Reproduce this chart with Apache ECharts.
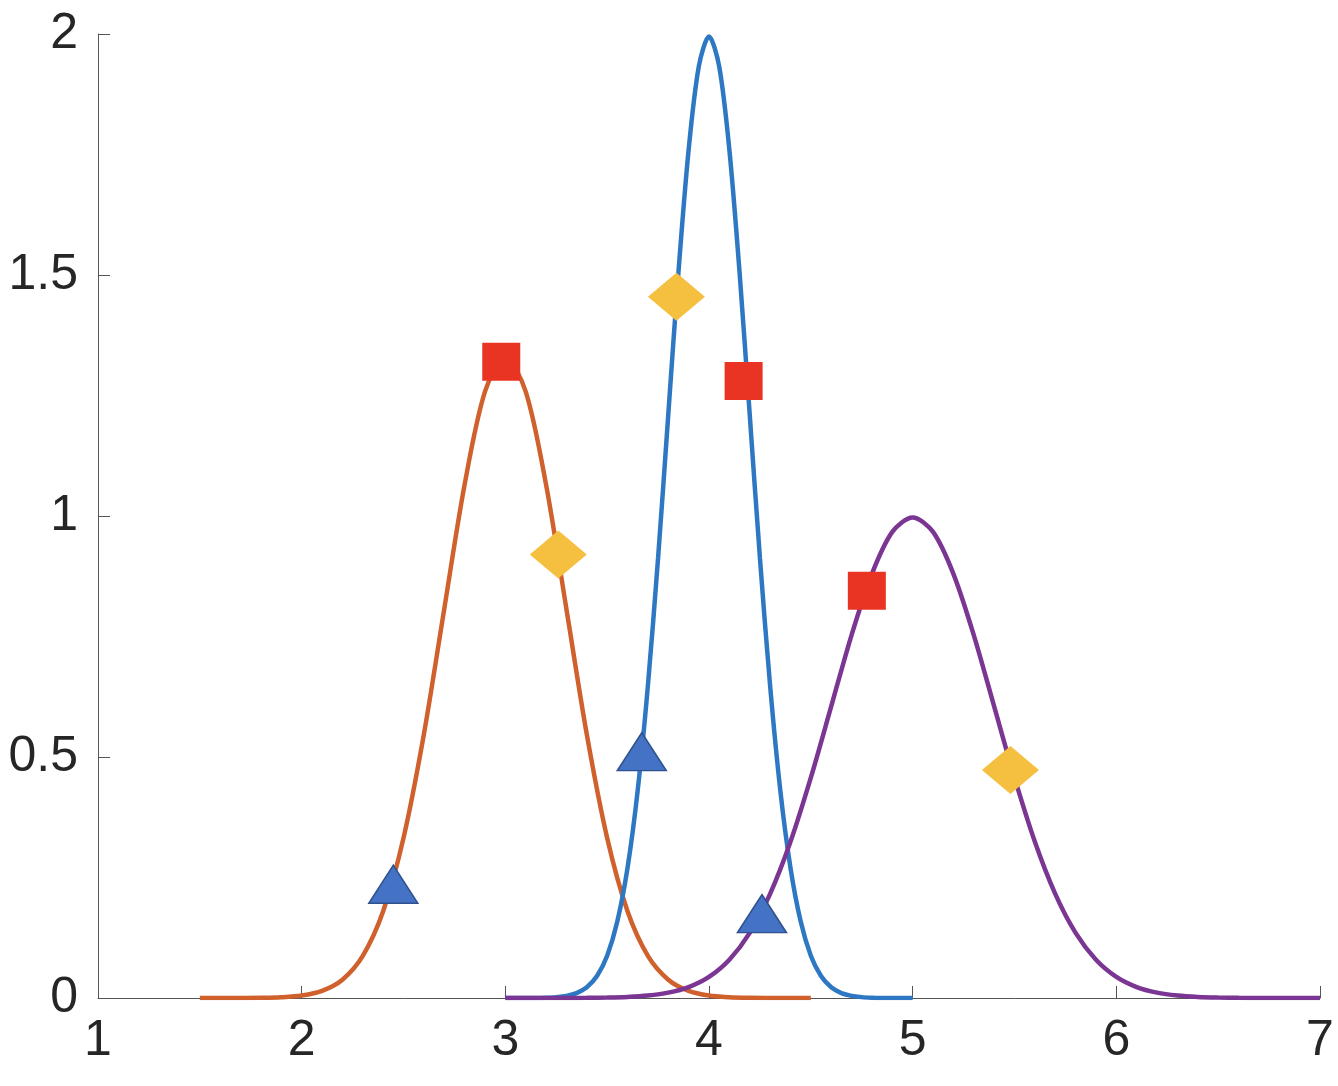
<!DOCTYPE html>
<html>
<head>
<meta charset="utf-8">
<script src="https://cdn.jsdelivr.net/npm/echarts@6/dist/echarts.min.js"></script>
<style>
  html, body { margin: 0; padding: 0; background: #fff; }
  #chart { width: 1338px; height: 1086px; }
</style>
</head>
<body>
<div id="chart"></div>
<script>
// curve samples
var orangeX = [1.5,1.6,1.7,1.8,1.9,2.0,2.1,2.2,2.3,2.4,2.5,2.6,2.7,2.8,2.9,3.0,
  3.1,3.2,3.3,3.4,3.5,3.6,3.7,3.8,3.9,4.0,4.1,4.2,4.3,4.4,4.5];
var orangeY = [0,0,0.0001,0.0004,0.0016,0.0051,0.0148,0.038,0.0874,0.180,0.332,0.547,0.807,1.065,1.258,1.330,
  1.258,1.065,0.807,0.547,0.332,0.180,0.0874,0.038,0.0148,0.0051,0.0016,0.0004,0.0001,0,0];

var blueX = [3.00,3.05,3.10,3.15,3.20,3.25,3.30,3.35,3.40,3.45,3.50,3.55,3.60,3.65,3.70,3.75,3.80,3.85,3.90,3.95,4.00,
  4.05,4.10,4.15,4.20,4.25,4.30,4.35,4.40,4.45,4.50,4.55,4.60,4.65,4.70,4.75,4.80,4.85,4.90,4.95,5.00];
var blueY = [0,0,0.0001,0.0002,0.0007,0.0018,0.0044,0.0102,0.0222,0.0455,0.0876,0.159,0.270,0.431,0.648,0.913,1.210,1.506,1.760,1.933,1.995,
  1.933,1.760,1.506,1.210,0.913,0.648,0.431,0.270,0.159,0.0876,0.0455,0.0222,0.0102,0.0044,0.0018,0.0007,0.0002,0.0001,0,0];

var purpleX = [3.0,3.1,3.2,3.3,3.4,3.5,3.6,3.7,3.8,3.9,4.0,4.1,4.2,4.3,4.4,4.5,4.6,4.7,4.8,4.9,5.0,
  5.1,5.2,5.3,5.4,5.5,5.6,5.7,5.8,5.9,6.0,6.1,6.2,6.3,6.4,6.5,6.6,6.7,6.8,6.9,7.0];
var purpleY = [0,0,0,0.0001,0.0003,0.0009,0.0022,0.0051,0.0111,0.0227,0.0438,0.0794,0.135,0.216,0.324,0.457,0.605,0.753,0.880,0.967,0.997,
  0.967,0.880,0.753,0.605,0.457,0.324,0.216,0.135,0.0794,0.0438,0.0227,0.0111,0.0051,0.0022,0.0009,0.0003,0.0001,0,0,0];

// markers
var squareX = [2.98, 4.17, 4.775];
var squareY = [1.32, 1.28, 0.845];
var diamondX = [3.26, 3.84, 5.48];
var diamondY = [0.92, 1.455, 0.473];
var triangleX = [2.45, 3.67, 4.26];
var triangleY = [0.236, 0.511, 0.175];

var xTicks = [1, 7, 1];
var yTicks = [0, 2, 0.5];

function pairs(xs, ys) {
  return xs.map(function (x, i) { return [x, ys[i]]; });
}

var axisColor = '#555555';
var labelStyle = { color: '#262626', fontSize: 50, fontFamily: 'Liberation Sans, Arial, sans-serif' };

var chart = echarts.init(document.getElementById('chart'));
chart.setOption({
  animation: false,
  grid: { left: 98, right: 18, top: 34, bottom: 88 },
  xAxis: {
    type: 'value', min: xTicks[0], max: xTicks[1], interval: xTicks[2],
    axisLine: { lineStyle: { color: axisColor, width: 1 } },
    axisTick: { inside: true, length: 12, lineStyle: { color: axisColor } },
    axisLabel: Object.assign({ margin: 18 }, labelStyle),
    splitLine: { show: false }
  },
  yAxis: {
    type: 'value', min: yTicks[0], max: yTicks[1], interval: yTicks[2],
    axisLine: { show: true, lineStyle: { color: axisColor, width: 1 } },
    axisTick: { show: true, inside: true, length: 12, lineStyle: { color: axisColor } },
    axisLabel: Object.assign({ margin: 20, formatter: function (v) { return String(v); } }, labelStyle),
    splitLine: { show: false }
  },
  series: [
    { type: 'line', data: pairs(orangeX, orangeY), smooth: 0.3, showSymbol: false,
      lineStyle: { color: '#D0602C', width: 4.5 }, z: 2 },
    { type: 'line', data: pairs(blueX, blueY), smooth: 0.3, showSymbol: false,
      lineStyle: { color: '#2E78C3', width: 4.5 }, z: 2 },
    { type: 'line', data: pairs(purpleX, purpleY), smooth: 0.3, showSymbol: false,
      lineStyle: { color: '#7B3592', width: 4.5 }, z: 2 },
    { type: 'scatter', data: pairs(squareX, squareY), symbol: 'rect', symbolSize: 38,
      itemStyle: { color: '#E93323', opacity: 1 }, z: 5 },
    { type: 'scatter', data: pairs(diamondX, diamondY), symbol: 'diamond', symbolSize: [57, 48],
      itemStyle: { color: '#F5BF40', opacity: 1 }, z: 5 },
    { type: 'scatter', data: pairs(triangleX, triangleY), symbol: 'triangle', symbolSize: [49, 38],
      itemStyle: { color: '#4472C4', borderColor: '#2F528F', borderWidth: 1.5, opacity: 1 }, z: 5 }
  ]
});
</script>
</body>
</html>
